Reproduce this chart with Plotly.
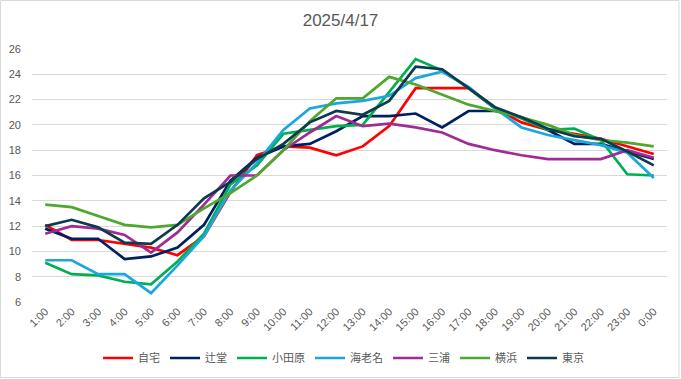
import plotly.graph_objects as go

hours = ["1:00", "2:00", "3:00", "4:00", "5:00", "6:00", "7:00", "8:00", "9:00", "10:00",
         "11:00", "12:00", "13:00", "14:00", "15:00", "16:00", "17:00", "18:00", "19:00",
         "20:00", "21:00", "22:00", "23:00", "0:00"]

jitaku = [12.1, 10.9, 10.9, 10.6, 10.3, 9.7, 11.2, 14.7, 17.6, 18.3, 18.2, 17.6, 18.3, 19.9,
          22.9, 22.9, 22.9, 21.3, 20.2, 19.6, 19.3, 18.9, 18.3, 17.7]
tsujido = [11.8, 11.0, 11.0, 9.4, 9.6, 10.3, 12.1, 15.6, 17.4, 18.3, 18.5, 19.5, 20.7, 20.7,
           20.9, 19.8, 21.1, 21.1, 20.6, 19.6, 18.5, 18.5, 17.9, 17.3]
odawara = [9.1, 8.2, 8.1, 7.6, 7.4, 9.2, 11.4, 15.3, 16.8, 19.3, 19.6, 19.9, 20.0, 22.6,
           25.2, 24.3, 22.9, 21.3, 20.5, 19.6, 19.7, 18.8, 16.1, 16.0]
ebina = [9.3, 9.3, 8.2, 8.2, 6.7, 8.9, 11.2, 14.8, 17.0, 19.6, 21.3, 21.7, 21.9, 22.3,
         23.7, 24.2, 23.0, 21.3, 19.8, 19.2, 18.8, 18.4, 17.8, 15.8]
miura = [11.4, 12.0, 11.8, 11.3, 9.9, 11.5, 13.7, 16.0, 16.0, 18.0, 19.4, 20.7, 19.9, 20.1,
         19.8, 19.4, 18.5, 18.0, 17.6, 17.3, 17.3, 17.3, 18.0, 17.4]
yokohama = [13.7, 13.5, 12.8, 12.1, 11.9, 12.1, 13.4, 14.6, 16.0, 18.0, 20.3, 22.1, 22.1, 23.8,
            23.2, 22.4, 21.6, 21.1, 20.6, 20.0, 19.2, 18.8, 18.6, 18.3]
tokyo = [12.0, 12.5, 11.9, 10.7, 10.6, 12.1, 14.2, 15.5, 17.3, 18.5, 20.2, 21.1, 20.8, 21.9,
         24.6, 24.4, 22.9, 21.4, 20.6, 19.7, 19.1, 18.9, 17.9, 16.8]

series = [
    ("自宅", jitaku, "#FF0000"),
    ("辻堂", tsujido, "#002060"),
    ("小田原", odawara, "#00B050"),
    ("海老名", ebina, "#1BA6E0"),
    ("三浦", miura, "#A02B93"),
    ("横浜", yokohama, "#4EA72E"),
    ("東京", tokyo, "#0E3A4F"),
]

fig = go.Figure()
for name, vals, color in series:
    fig.add_trace(go.Scatter(x=hours, y=vals, name=name, mode="lines",
                             line=dict(color=color, width=2.7)))

W, H = 681, 379
ml, mr, mt, mb = 32, 14, 49, 77
pw, ph = W - ml - mr, H - mt - mb

fig.update_layout(
    width=W, height=H,
    margin=dict(l=ml, r=mr, t=mt, b=mb, pad=0, autoexpand=False),
    paper_bgcolor="white", plot_bgcolor="white",
    font=dict(family="Liberation Sans, Arial, Noto Sans CJK JP", color="#595959", size=11),
    title=dict(text="2025/4/17", x=0.5, xanchor="center", y=1 - 20 / H, yanchor="middle",
               font=dict(size=17, color="#595959")),
    xaxis=dict(type="category", range=[-0.5, len(hours) - 0.5], tickangle=-45,
               showgrid=False, showline=False, zeroline=False, automargin=False,
               ticks="", tickfont=dict(size=11, color="#595959")),
    yaxis=dict(range=[6, 26], dtick=2, showgrid=True, gridcolor="#D9D9D9", gridwidth=1,
               zeroline=False, showline=False, ticks="", ticklabelstandoff=10,
               automargin=False, tickfont=dict(size=11, color="#595959")),
    legend=dict(orientation="h", x=(98 - ml) / pw, xanchor="left", y=(ph - (358 - mt)) / ph,
                yanchor="middle", font=dict(size=11, family="Noto Sans CJK JP", color="#595959"),
                itemwidth=30, tracegroupgap=0, bgcolor="rgba(0,0,0,0)"),
    showlegend=True,
)

fig.add_shape(type="rect", xref="paper", yref="paper",
              x0=(0.5 - ml) / pw, x1=(679 - ml) / pw,
              y0=(ph - (377.5 - mt)) / ph, y1=(ph - (0.5 - mt)) / ph,
              line=dict(color="#D9D9D9", width=1), fillcolor="rgba(0,0,0,0)", layer="below")

fig.write_html("out.html", config={"displayModeBar": False},
               post_script="document.body.style.margin='0';document.body.style.overflow='hidden';")
